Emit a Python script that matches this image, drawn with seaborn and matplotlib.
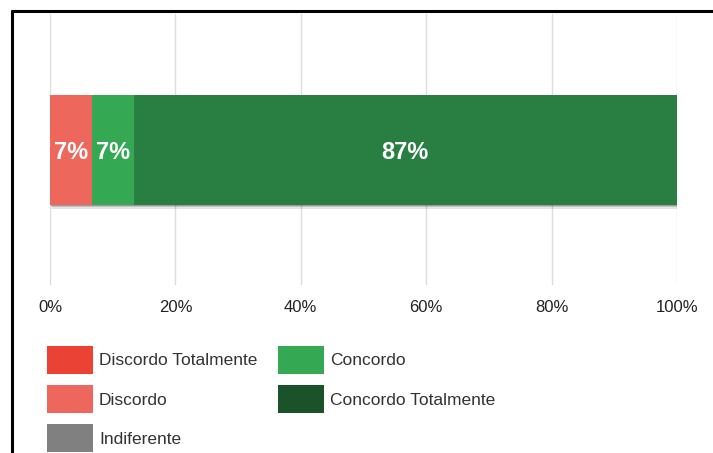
import matplotlib
matplotlib.use("Agg")
import matplotlib.pyplot as plt
import matplotlib.patheffects as pe
from matplotlib.patches import Patch
from matplotlib.lines import Line2D
import seaborn as sns
import numpy as np
import pandas as pd

# Data
categories = ["Discordo Totalmente", "Discordo", "Indiferente", "Concordo", "Concordo Totalmente"]
counts = [0, 1, 0, 1, 13]
bar_colors = ["#EA4335", "#EE675C", "#808080", "#34A853", "#297F41"]
legend_colors = ["#EA4335", "#EE675C", "#808080", "#34A853", "#1A522A"]
ticks = [0, 20, 40, 60, 80, 100]
tick_labels = ["0%", "20%", "40%", "60%", "80%", "100%"]

total = sum(counts)
shares = [c / total * 100 for c in counts]
cum = np.cumsum(shares)
df = pd.DataFrame({"cat": categories, "share": shares, "cum": cum, "q": ["Q"] * len(categories)})

sns.set_theme(style="white")
plt.rcParams["font.family"] = ["Liberation Sans", "DejaVu Sans"]

W, H = 713, 453
fig = plt.figure(figsize=(W / 100, H / 100), dpi=100)
ax = fig.add_axes([50 / W, 1 - 285 / H, (677 - 50) / W, (285 - 14) / H])

bar_h = 110 / 271
# Draw cumulative bars, largest first so smaller ones overlay
for i in reversed(range(len(categories))):
    if shares[i] <= 0:
        continue
    sns.barplot(data=df.iloc[[i]], x="cum", y="q", color=bar_colors[i],
                width=bar_h, saturation=1, ax=ax, orient="h", linewidth=0)

# soft shadow on the full bar
full = ax.patches[0]
full.set_path_effects([
    pe.SimplePatchShadow(offset=(1.5, -3.0), shadow_rgbFace="black", alpha=0.10),
    pe.SimplePatchShadow(offset=(1.0, -2.0), shadow_rgbFace="black", alpha=0.15),
    pe.SimplePatchShadow(offset=(0.5, -1.0), shadow_rgbFace="black", alpha=0.20),
    pe.Normal()])

ax.set_xlim(0, 100)
ax.set_ylim(0.5, -0.5)
ax.set_xticks(ticks)
ax.set_xticklabels(tick_labels, fontsize=12, color="#222222")
ax.set_yticks([])
ax.set_xlabel("")
ax.set_ylabel("")
ax.tick_params(axis="x", length=0, pad=11)
for s in ax.spines.values():
    s.set_visible(False)
ax.grid(axis="x", color="#DDDDDD", linewidth=1)
ax.set_axisbelow(True)

# value labels
start = 0
for i, sh in enumerate(shares):
    if sh > 0:
        ax.text(start + sh / 2, 0.012, f"{sh:.0f}%", ha="center", va="center",
                color="white", fontsize=17, fontweight="bold")
    start += sh

# legend
handles = [Patch(facecolor=c, edgecolor="none") for c in legend_colors]
leg = fig.legend(handles, categories, loc="upper left",
                 bbox_to_anchor=(47 / W, 1 - 346 / H), ncol=2, frameon=False,
                 fontsize=12.5, handlelength=2.65, handleheight=2.1,
                 handletextpad=0.35, columnspacing=1.2, labelspacing=0.65,
                 borderpad=0, borderaxespad=0)
for t in leg.get_texts():
    t.set_color("#333333")

# outer frame (top and left)
fig.add_artist(Line2D([11.5 / W, 1], [1 - 10.5 / H, 1 - 10.5 / H], color="black", linewidth=2.2,
                      transform=fig.transFigure))
fig.add_artist(Line2D([11.5 / W, 11.5 / W], [0, 1 - 10.5 / H], color="black", linewidth=2.2,
                      transform=fig.transFigure))

fig.savefig("out.png", dpi=100, facecolor="white")
